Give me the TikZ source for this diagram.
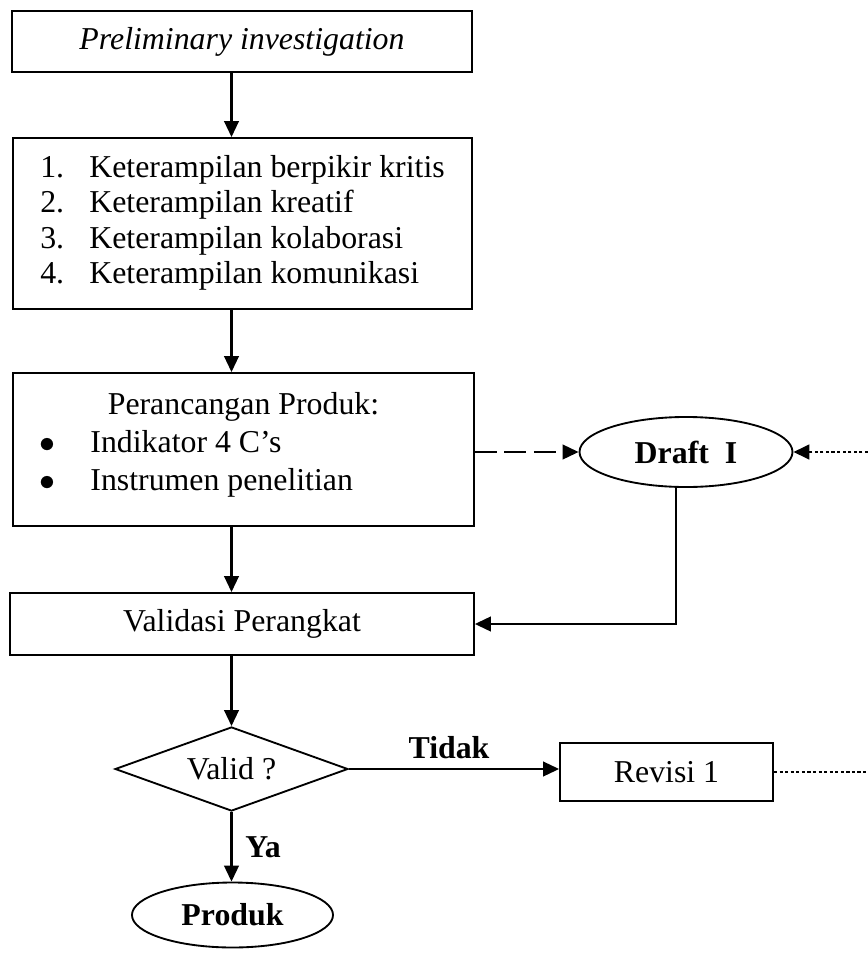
\documentclass[tikz,border=0pt]{standalone}
\usepackage{fontspec}
\setmainfont{Liberation Serif}
\usetikzlibrary{arrows.meta,shapes.geometric}
\begin{document}
\begin{tikzpicture}[x=0.377pt,y=-0.377pt]
\tikzstyle{box}=[draw,line width=0.7pt,rectangle,inner sep=0pt,font=\fontsize{12}{13.2}\selectfont]
\tikzstyle{oval}=[draw,line width=0.7pt,ellipse,inner sep=0pt,font=\fontsize{12}{13.2}\selectfont\bfseries]
\tikzstyle{lbl}=[inner sep=0pt,font=\fontsize{12}{13.2}\selectfont\bfseries]
\tikzstyle{arr}=[line width=0.8pt,-{Triangle[length=6pt,width=5.5pt]}]
\tikzstyle{dashline}=[dash pattern=on 8.3pt off 2.8pt]
\tikzstyle{dotline}=[line width=1pt,dash pattern=on 1.2pt off 0.9pt]
\useasboundingbox (0,0) rectangle (868,957);
\node [box,minimum width=173.4pt,minimum height=23pt] (prelim) at (242,41.5) {\textit{Preliminary investigation}};
\node [box,minimum width=173pt,minimum height=64.5pt] (skill) at (242.5,223.5) {\begin{tabular}{@{}p{18.5pt}@{}l@{}}
1. & Keterampilan berpikir kritis\\
2. & Keterampilan kreatif\\
3. & Keterampilan kolaborasi\\
4. & Keterampilan komunikasi
\end{tabular}};
\node [box,minimum width=173.8pt,minimum height=57.7pt] (design) at (243.5,449.5) {\begin{tabular}{@{}p{15.8pt}@{}p{131.2pt}@{}}
\multicolumn{2}{c}{Perancangan Produk:}\\[1pt]
\hspace*{-3.5pt}$\bullet$ & Indikator 4 C’s\\[1pt]
\hspace*{-3.5pt}$\bullet$ & Instrumen penelitian\\[3pt]
\end{tabular}};
\node [box,minimum width=174.9pt,minimum height=23.4pt] (valid) at (242,624) {Validasi Perangkat};
\node [box,diamond,aspect=2.77,minimum width=87.8pt,minimum height=31.7pt] (cek) at (231.5,769) {Valid ?};
\node [oval,minimum width=80.3pt,minimum height=26.4pt] (draft) at (686,452) {Draft\ \ I};
\node [box,minimum width=80.3pt,minimum height=21.9pt] (revisi) at (666.5,772) {Revisi 1};
\node [oval,minimum width=75.8pt,minimum height=24.5pt] (produk) at (232.5,915) {Produk};
\node [lbl] (tidak) at (449,748) {Tidak};
\node [lbl] (ya) at (263,847) {Ya};
\coordinate (rim) at (868,0);
\draw [arr] (prelim.south -| cek) -- (skill.north -| cek);
\draw [arr] (skill.south -| cek) -- (design.north -| cek);
\draw [arr] (design.south -| cek) -- (valid.north -| cek);
\draw [arr] (valid.south -| cek) -- (cek.north);
\draw [arr] (cek.south) -- (produk.north -| cek);
\draw [arr] (cek.east) -- (cek.east -| revisi.west);
\draw [arr,dashline] (design.east |- draft) -- (draft.west);
\draw [arr] ([xshift=-3.8pt]draft.south) |- (valid.east);
\draw [arr,dotline] (draft.east -| rim) -- (draft.east);
\draw [dotline] (revisi.east) -- (revisi.east -| rim);
\end{tikzpicture}
\end{document}
